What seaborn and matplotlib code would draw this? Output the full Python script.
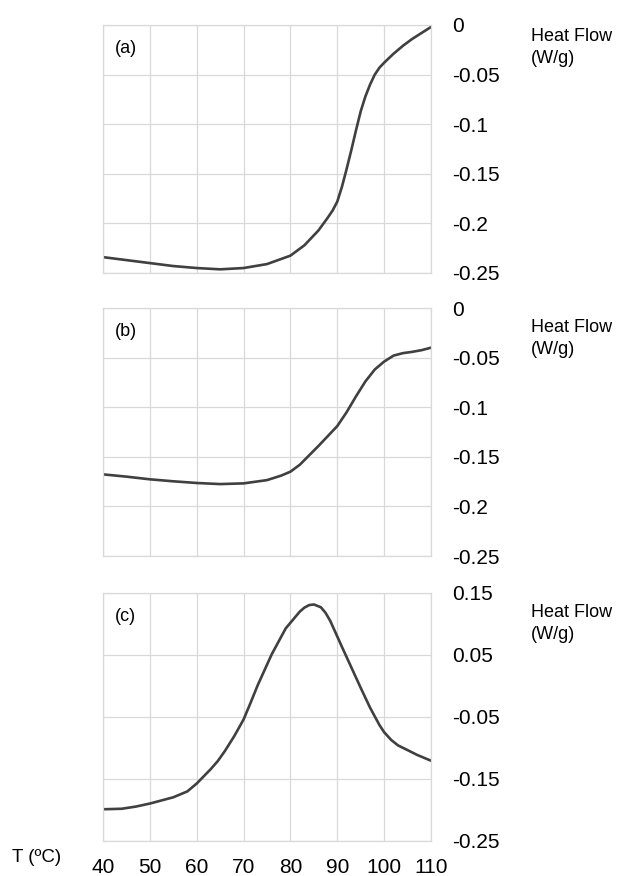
import matplotlib
matplotlib.use("Agg")
import matplotlib.pyplot as plt
import seaborn as sns
import pandas as pd

# ---- data ----
temp_a = [40, 45, 50, 55, 60, 65, 70, 75, 80, 83, 86, 88, 89, 90, 91, 92, 93, 94, 95, 96, 97, 98, 99, 100,
          102, 104, 106, 108, 110]
flow_a = [-0.234, -0.237, -0.240, -0.243, -0.245, -0.2463, -0.245, -0.241, -0.2325, -0.222, -0.207, -0.194,
          -0.187, -0.178, -0.163, -0.145, -0.126, -0.106, -0.087, -0.072, -0.060, -0.050, -0.043, -0.038,
          -0.029, -0.021, -0.014, -0.008, -0.002]

temp_b = [40, 45, 50, 55, 60, 65, 70, 75, 78, 80, 82, 84, 86, 88, 90, 92, 94, 96, 98, 100, 102, 104, 106,
          108, 110]
flow_b = [-0.1677, -0.170, -0.1727, -0.1747, -0.1764, -0.1775, -0.1768, -0.1735, -0.169, -0.165, -0.158,
          -0.1485, -0.139, -0.129, -0.119, -0.105, -0.089, -0.074, -0.062, -0.0540, -0.048, -0.0455, -0.0442,
          -0.0425, -0.040]

temp_c = [40, 44, 47, 50, 55, 58, 60, 63, 64.5, 66, 68, 70, 71.5, 73, 76, 79, 82, 83, 84, 85, 86.5, 87.5,
          88.5, 91, 93, 95, 97, 99, 100, 101.5, 103, 105, 107, 110]
flow_c = [-0.1988, -0.1980, -0.1945, -0.1896, -0.1795, -0.170, -0.1573, -0.134, -0.121, -0.105, -0.081,
          -0.054, -0.027, 0.001, 0.051, 0.093, 0.120, 0.1265, 0.1305, 0.1315, 0.127, 0.118, 0.105, 0.063,
          0.030, -0.003, -0.035, -0.063, -0.0745, -0.087, -0.096, -0.1034, -0.111, -0.1205]

panel_labels = ["(a)", "(b)", "(c)"]
yticks_ab = [0, -0.05, -0.1, -0.15, -0.2, -0.25]
yticklabels_ab = ["0", "-0.05", "-0.1", "-0.15", "-0.2", "-0.25"]
yticks_c = [0.15, 0.05, -0.05, -0.15, -0.25]
yticklabels_c = ["0.15", "0.05", "-0.05", "-0.15", "-0.25"]
xticks = [40, 50, 60, 70, 80, 90, 100, 110]
ylabel_lines = ["Heat Flow", "(W/g)"]
xlabel_text = "T (ºC)"

# ---- style ----
sns.set_theme(style="white")
plt.rcParams["font.family"] = ["Liberation Sans", "DejaVu Sans"]

W, H = 623, 876
fig = plt.figure(figsize=(W / 100, H / 100), dpi=100)

grid_col = "#d9d9d9"
line_col = "#404040"

panels = [
    (temp_a, flow_a, (-0.25, 0.0), yticks_ab, yticklabels_ab, 25, 7),
    (temp_b, flow_b, (-0.25, 0.0), yticks_ab, yticklabels_ab, 308, 15),
    (temp_c, flow_c, (-0.25, 0.15), yticks_c, yticklabels_c, 593, 15),
]

ax_left, ax_right = 103, 431
ax_h = 248

for i, (tx, fy, ylim, yt, ytl, top_px, hf_off) in enumerate(panels):
    ax = fig.add_axes([ax_left / W, 1 - (top_px + ax_h) / H, (ax_right - ax_left) / W, ax_h / H])
    df = pd.DataFrame({"T": tx, "HF": fy})
    sns.lineplot(data=df, x="T", y="HF", ax=ax, color=line_col, linewidth=1.9, sort=False)
    ax.set_xlim(40, 110)
    ax.set_ylim(*ylim)
    ax.set_xticks(xticks)
    ax.set_yticks(yt)
    ax.set_yticklabels(ytl)
    ax.yaxis.tick_right()
    ax.grid(True, color=grid_col, linewidth=0.9)
    for s in ax.spines.values():
        s.set_visible(True)
        s.set_color(grid_col)
        s.set_linewidth(0.9)
    ax.tick_params(axis="y", length=0, pad=15.5, labelsize=15, labelcolor="black")
    if i == 2:
        ax.tick_params(axis="x", length=0, pad=12, labelsize=15, labelcolor="black")
        ax.set_xticklabels([str(v) for v in xticks])
    else:
        ax.tick_params(axis="x", length=0, labelbottom=False)
    ax.set_xlabel("")
    ax.set_ylabel("")
    ax.text(0.035, 0.905, panel_labels[i], transform=ax.transAxes, fontsize=13,
            ha="left", va="center", color="black")
    # Heat Flow label
    fig.text(531 / W, 1 - (top_px + hf_off - 4) / H, ylabel_lines[0], fontsize=13,
             ha="left", va="top", color="black")
    fig.text(531 / W, 1 - (top_px + hf_off + 18) / H, ylabel_lines[1], fontsize=13,
             ha="left", va="top", color="black")

fig.text(12 / W, 1 - 858 / H, xlabel_text, fontsize=13.5, ha="left", va="center", color="black")

fig.savefig("out.png", dpi=100)
